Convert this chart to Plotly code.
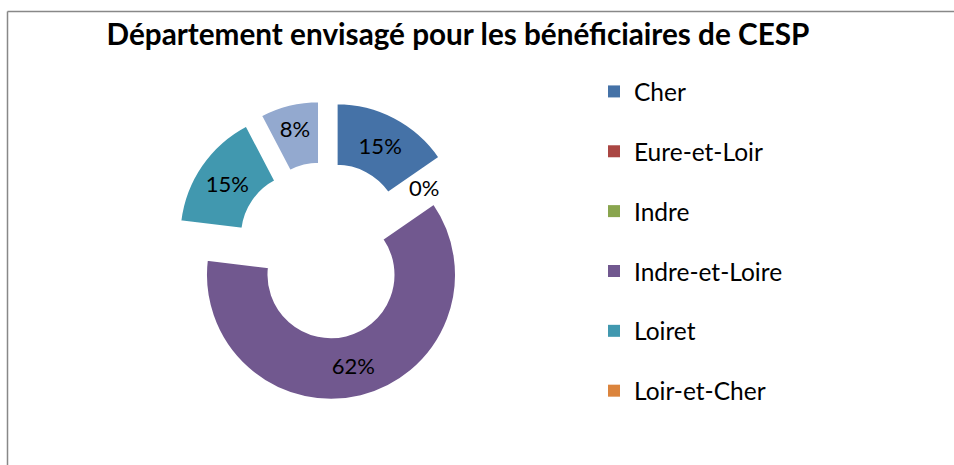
import math
import plotly.graph_objects as go

# Data
categories = ["Cher", "Eure-et-Loir", "Indre", "Indre-et-Loire", "Loiret", "Loir-et-Cher", "Autre"]
values = [2, 0, 0, 8, 2, 0, 1]
colors = ["#4572A7", "#AA4643", "#89A54E", "#71588F", "#4198AF", "#DB843D", "#93A9CF"]
legend_categories = categories[:6]

title_text = "Département envisagé pour les bénéficiaires de CESP"

W, H = 954, 465
CX, CY = 325.0, 250.5   # pie centre in pixels (from top-left)
HALF = 150.0            # half of domain size in pixels
PULL = 0.2

fig = go.Figure()

fig.add_trace(go.Pie(
    labels=categories,
    values=values,
    sort=False,
    direction="clockwise",
    rotation=0,
    hole=0.5,
    pull=[PULL] * len(values),
    marker=dict(colors=colors, line=dict(color="white", width=2)),
    textinfo="percent",
    texttemplate="%{percent:.0%}",
    textposition="inside",
    insidetextorientation="horizontal",
    textfont=dict(family="Lato", size=22, color="black"),
    showlegend=False,
    domain=dict(x=[(CX - HALF) / W, (CX + HALF) / W],
                y=[(H - CY - HALF) / H, (H - CY + HALF) / H]),
))

# label for the first zero-valued slice (plotly draws nothing for zero slices)
total = sum(values)
R = HALF / (1 + PULL)
annotations = []
cum = 0
shown_zero = False
for cat, v in zip(categories, values):
    if v == 0 and not shown_zero:
        ang = math.radians(360 * cum / total + 2.0)
        rr = R * 0.94
        px = CX + rr * math.sin(ang)
        py = CY - rr * math.cos(ang)
        annotations.append(dict(text="0%", x=px / W, y=1 - py / H, xref="paper", yref="paper",
                                showarrow=False, xanchor="center", yanchor="middle",
                                font=dict(family="Lato", size=22, color="black")))
        shown_zero = True
    cum += v

# legend entries (only first six categories shown, as in the reference)
for i, (cat, col) in enumerate(zip(legend_categories, colors[:6])):
    fig.add_trace(go.Scatter(
        x=[None], y=[None], mode="markers", name=cat,
        marker=dict(symbol="square", size=12, color=col),
        legendgroup=f"g{i}", showlegend=True,
    ))

fig.update_layout(
    width=W, height=H,
    margin=dict(l=0, r=0, t=0, b=0),
    paper_bgcolor="white",
    plot_bgcolor="white",
    xaxis=dict(visible=False),
    yaxis=dict(visible=False),
    title=dict(text="<b>" + title_text + "</b>", x=458 / W, xanchor="center",
               y=1 - 35 / H, yanchor="middle",
               font=dict(family="Lato", size=29.7, color="black")),
    legend=dict(x=594 / W, y=1 - 69 / H, xanchor="left", yanchor="top",
                font=dict(family="Lato", size=24.5, color="black"),
                traceorder="grouped", tracegroupgap=25,
                itemwidth=30, bgcolor="rgba(0,0,0,0)"),
    annotations=annotations,
    shapes=[
        dict(type="line", xref="paper", yref="paper", x0=7.5 / W, x1=7.5 / W,
             y0=0, y1=1 - 11.5 / H, line=dict(color="#888888", width=1.5)),
        dict(type="line", xref="paper", yref="paper", x0=7.5 / W, x1=1,
             y0=1 - 11.5 / H, y1=1 - 11.5 / H, line=dict(color="#888888", width=1.5)),
    ],
)

fig.write_html("out.html", config={"displayModeBar": False},
               post_script="document.body.style.margin='0';")
